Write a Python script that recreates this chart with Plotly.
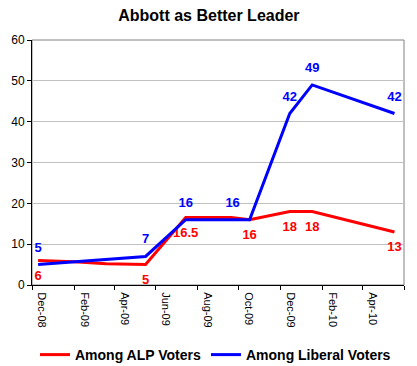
import plotly.graph_objects as go

# ---- data ----
alp_dates = ["2008-12-10", "2009-02-01", "2009-03-20", "2009-05-17", "2009-07-15",
             "2009-09-20", "2009-10-17", "2009-12-15", "2010-01-17", "2010-05-18"]
alp_values = [6, 5.7, 5.2, 5, 16.5, 16.5, 16, 18, 18, 13]
alp_labels = ["6", "", "", "5", "16.5", "", "16", "18", "18", "13"]

lib_dates = ["2008-12-10", "2009-05-17", "2009-07-15", "2009-10-17",
             "2009-12-15", "2010-01-17", "2010-05-18"]
lib_values = [5, 7, 16, 16, 42, 49, 42]
lib_labels = ["5", "7", "16", "16", "42", "49", "42"]

title_text = "Abbott as Better Leader"
alp_name = "Among ALP Voters"
lib_name = "Among Liberal Voters"

FONT = "Arial, 'Liberation Sans', sans-serif"
RED = "#ff0000"
BLUE = "#0000ff"

alp_pos = ["bottom center"] * len(alp_labels)
lib_pos = ["top center"] * len(lib_labels)
lib_pos[3] = "top left"

fig = go.Figure()
fig.add_trace(go.Scatter(
    x=alp_dates, y=alp_values, name=alp_name, mode="lines+markers+text",
    line=dict(color=RED, width=3),
    marker=dict(size=14, color="rgba(0,0,0,0)"),
    text=alp_labels, textposition=alp_pos,
    textfont=dict(family=FONT, size=13, color=RED, weight="bold"),
))
fig.add_trace(go.Scatter(
    x=lib_dates, y=lib_values, name=lib_name, mode="lines+markers+text",
    line=dict(color=BLUE, width=3),
    marker=dict(size=14, color="rgba(0,0,0,0)"),
    text=lib_labels, textposition=lib_pos,
    textfont=dict(family=FONT, size=13, color=BLUE, weight="bold"),
))

fig.update_layout(
    width=417, height=366,
    margin=dict(l=32, r=13, t=40, b=81, autoexpand=False),
    paper_bgcolor="white", plot_bgcolor="white",
    font=dict(family=FONT, color="black"),
    title=dict(text="<b>" + title_text + "</b>", x=0.501, xref="container",
               xanchor="center", y=1 - 15 / 366, yanchor="middle",
               font=dict(size=16, family=FONT, color="black")),
    showlegend=True,
    legend=dict(orientation="h", xref="container", yref="container",
                x=35 / 417, xanchor="left", y=1 - 355 / 366, yanchor="middle",
                font=dict(size=14, family=FONT, color="black", weight="bold"),
                itemwidth=30, bgcolor="rgba(0,0,0,0)", tracegroupgap=0),
    shapes=[dict(type="rect", xref="paper", yref="paper", x0=0, x1=1, y0=0, y1=1,
                 line=dict(color="#808080", width=1), layer="below")],
)
fig.update_xaxes(
    type="date", range=["2008-12-01", "2010-06-01"],
    tick0="2008-12-01", dtick="M2", tickformat="%b-%y",
    tickangle=90, ticks="outside", ticklen=4, tickcolor="black",
    showline=True, linecolor="black", linewidth=1, showgrid=False,
    tickfont=dict(size=11, family=FONT, color="black"), ticklabelshift=10,
    zeroline=False, fixedrange=True, automargin=False,
)
fig.update_yaxes(
    range=[0, 60], dtick=10, ticks="outside", ticklen=4, tickcolor="black",
    showline=True, linecolor="black", linewidth=1,
    showgrid=True, gridcolor="#c0c0c0", gridwidth=1,
    tickfont=dict(size=12, family=FONT, color="black"), zeroline=False,
    fixedrange=True, automargin=False,
)
fig.write_html(
    "out.html",
    config={"displayModeBar": False},
    post_script="document.body.style.margin='0';document.body.style.padding='0';"
                "document.body.style.overflow='hidden';",
)
